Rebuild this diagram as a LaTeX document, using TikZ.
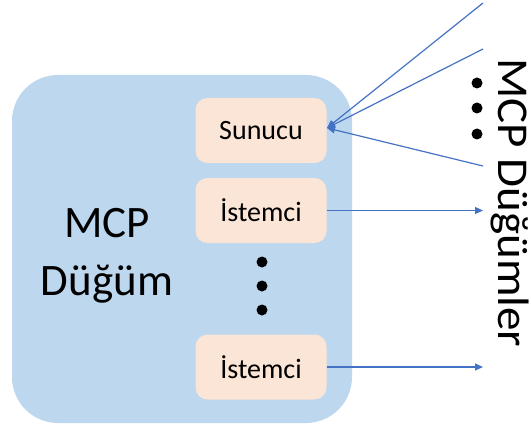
\documentclass[tikz,border=0pt]{standalone}
\usepackage{fontspec}
\setmainfont{Carlito}
\newfontfamily\widefont[FakeStretch=1.07]{Carlito}
\usetikzlibrary{arrows.meta}
\definecolor{nodeblue}{HTML}{BDD7EE}
\definecolor{rolepeach}{HTML}{FBE5D6}
\definecolor{linkblue}{HTML}{4472C4}
\begin{document}
\begin{tikzpicture}[x=1pt,y=-1pt,
  rolebox/.style={fill=rolepeach,draw=none,rounded corners=12pt,
    minimum width=131pt,minimum height=65pt,inner sep=0pt,
    font=\fontsize{28}{34}\selectfont},
  link/.style={draw=linkblue,line width=1.2pt,
    -{Triangle[length=8pt,width=7pt]}},
  dot/.style={circle,fill=black,minimum size=11pt,inner sep=0pt}]
\useasboundingbox (0,0) rectangle (531,428);
% the MCP node body
\node[fill=nodeblue,rounded corners=46pt,minimum width=340pt,minimum height=348pt,
  inner sep=0pt] (body) at (182,249) {};
\node[anchor=base,align=center,font=\fontsize{45}{58}\selectfont,inner sep=0pt]
  (title) at (107,295) {MCP\\Düğüm};
% server and client roles
\node[rolebox] (srv) at (261,130.5) {Sunucu};
\node[rolebox] (cl1) at (261,210.5) {İstemci};
\node[rolebox] (cl2) at (261,367) {İstemci};
\node[dot] (d1) at (262,262) {};
\node[dot] (d2) at (262,286) {};
\node[dot] (d3) at (262,310) {};
% peer MCP nodes
\node[anchor=base west,rotate=-90,font=\widefont\fontsize{44}{54}\selectfont,inner sep=0pt]
  (peers) at (498,58) {MCP Düğümler};
\node[dot] (p1) at (477,83) {};
\node[dot] (p2) at (477,108) {};
\node[dot] (p3) at (477,134) {};
% connections
\coordinate (in1) at (483,3);
\coordinate (in2) at (483,49);
\coordinate (in3) at (483,166);
\coordinate (out1) at (483,210.5);
\coordinate (out2) at (483,367);
\coordinate (srvtip) at (327,128);
\draw[link] (in1) -- (srvtip);
\draw[link] (in2) -- (srvtip);
\draw[link] (in3) -- (srvtip);
\draw[link] (cl1.east) -- (out1);
\draw[link] (cl2.east) -- (out2);
\end{tikzpicture}
\end{document}
